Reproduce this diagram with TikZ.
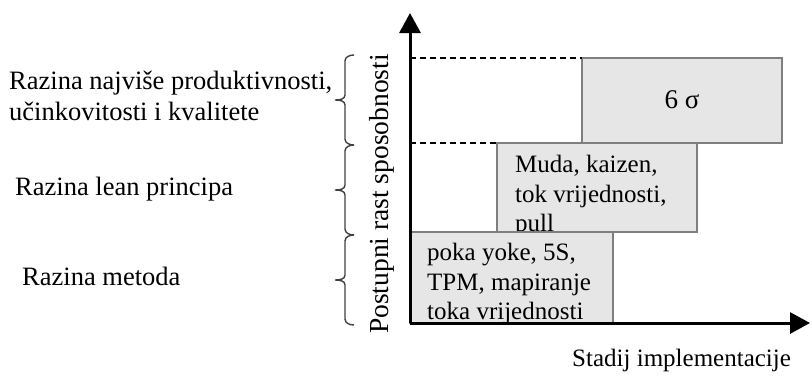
\documentclass[tikz,border=0pt]{standalone}
\usepackage{fontspec}
\setmainfont{Liberation Serif}
\usetikzlibrary{arrows.meta}
\definecolor{boxfill}{HTML}{E6E6E6}
\definecolor{boxline}{HTML}{7F7F7F}
\definecolor{bracecol}{HTML}{404040}
\tikzset{
  stagebox/.style={draw=boxline, fill=boxfill, line width=2pt},
  axisline/.style={line width=3pt, -{Triangle[length=20pt,width=21pt]}},
  guide/.style={dashed, line width=1.4pt, dash pattern=on 6pt off 4pt},
  lbl/.style={inner sep=0pt, font=\fontsize{26.5}{31}\selectfont, align=left},
  boxtxt/.style={inner sep=0pt, font=\fontsize{25}{29.5}\selectfont, align=left},
  bracestyle/.style={draw=bracecol, line width=1.4pt},
}
\newcommand\lvlbrace[2]{% #1 top y, #2 bottom y
  \draw[bracestyle] (354,#1) to[out=180,in=90] (345,{#1+6})
    -- (345,{(#1+#2)/2-5}) to[out=-90,in=0] (335,{(#1+#2)/2})
    to[out=0,in=90] (345,{(#1+#2)/2+5})
    -- (345,{#2-6}) to[out=-90,in=180] (354,#2);
}
\begin{document}
\begin{tikzpicture}[x=1pt,y=-1pt]
\useasboundingbox (0,0) rectangle (812,376);
% coordinates
\coordinate (O) at (410,323);
\coordinate (ytip) at (410,13);
\coordinate (xtip) at (810,323);
% stage boxes
\draw[stagebox] (582,58) rectangle (782,143);
\node (s3) at (682,100) [inner sep=0pt, font=\fontsize{27}{31}\selectfont] {6 σ};
\draw[stagebox] (497,143) rectangle (697,232);
\node (s2) [boxtxt, anchor=north west] at (515,155) {Muda, kaizen,\\tok vrijednosti,\\pull};
\draw[stagebox] (410,232) rectangle (613,323);
\node (s1) [boxtxt, anchor=north west] at (427,243) {poka yoke, 5S,\\TPM, mapiranje\\toka vrijednosti};
% dashed guides
\coordinate (d1a) at (410,58); \coordinate (d1b) at (582,58);
\coordinate (d2a) at (410,143); \coordinate (d2b) at (497,143);
\draw[guide] (d1a) -- (d1b);
\draw[guide] (d2a) -- (d2b);
% axes
\draw[axisline] (O) -- (ytip);
\draw[axisline] (O) -- (xtip);
% axis labels
\node (ylab) [lbl, rotate=90, font=\fontsize{27.5}{31}\selectfont] at (382,194) {Postupni rast sposobnosti};
\node (xlab) [lbl, font=\fontsize{25}{31}\selectfont, anchor=west] at (572,360) {Stadij implementacije};
% braces
\lvlbrace{55}{145}
\lvlbrace{145}{235}
\lvlbrace{235}{325}
% level labels
\node (l3) [lbl, anchor=west] at (9,96) {Razina najviše produktivnosti,\\učinkovitosti i kvalitete};
\node (l2) [lbl, anchor=west] at (15,189) {Razina lean principa};
\node (l1) [lbl, anchor=west] at (22,276) {Razina metoda};
\end{tikzpicture}
\end{document}
